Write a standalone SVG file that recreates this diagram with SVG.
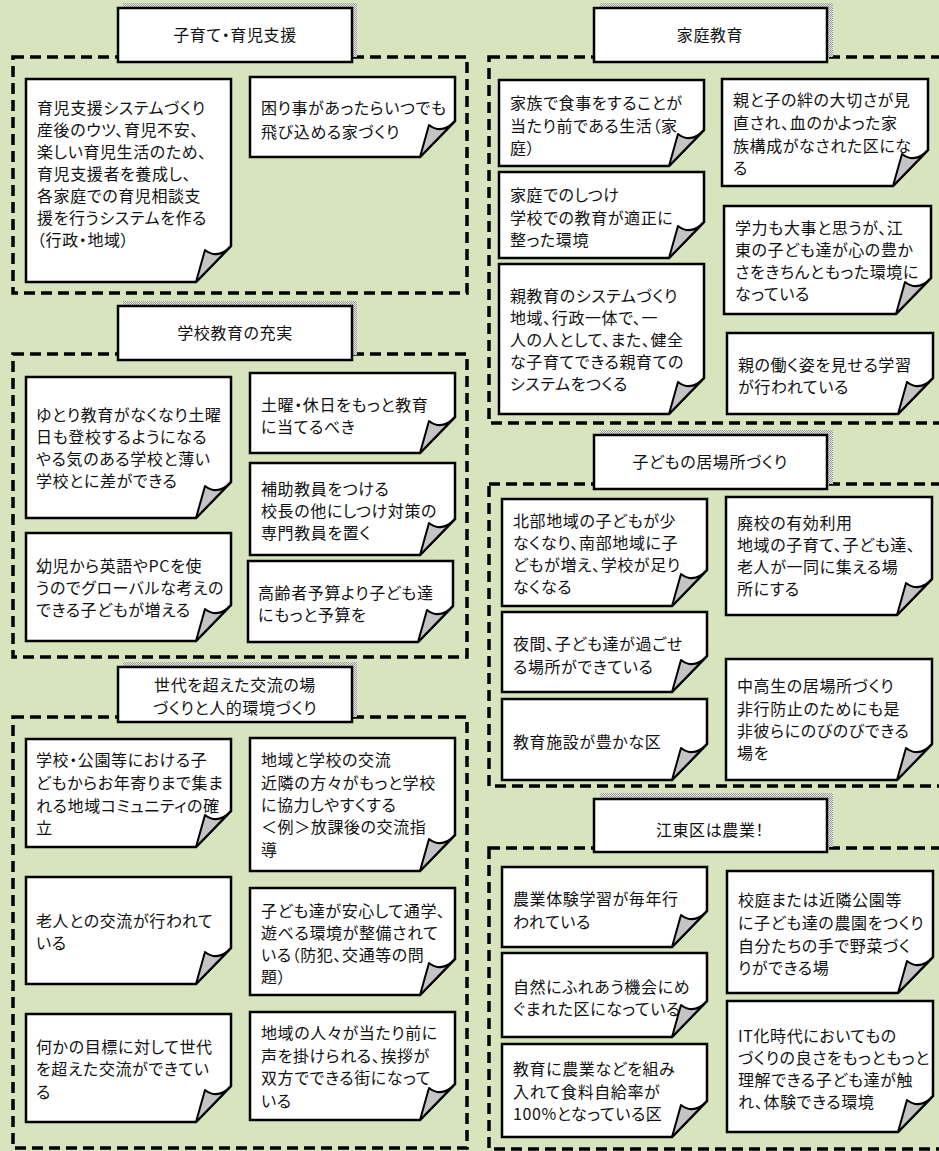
<svg xmlns="http://www.w3.org/2000/svg" width="939" height="1151" viewBox="0 0 939 1151">
<style>
.bg{fill:#d7e4bd}
.grp{fill:none;stroke:#000;stroke-width:3.5;stroke-dasharray:11 6}
.ttl{fill:#fff;stroke:#000;stroke-width:2.5}
.shd{fill:url(#chk)}
.note{fill:#fff;stroke:#000;stroke-width:2.5;stroke-linejoin:miter}
.flap{fill:#c4c4c4;stroke:#000;stroke-width:2;stroke-linejoin:round}
text{font-family:"Noto Sans CJK JP","Noto Sans CJK SC",sans-serif;font-size:16px;fill:#111;font-feature-settings:"palt" 1;letter-spacing:0.6px}
.c{text-anchor:middle}
</style>
<defs>
<pattern id="chk" width="2" height="2" patternUnits="userSpaceOnUse">
<rect width="2" height="2" fill="#e6e6e6"/>
<rect width="1" height="1" fill="#9a9a9a"/>
<rect x="1" y="1" width="1" height="1" fill="#9a9a9a"/>
</pattern>
</defs>
<rect class="bg" x="0" y="0" width="939" height="1151"/>

<g id="groups">
<rect class="grp" x="13" y="57" width="454" height="236"/>
<rect class="grp" x="13" y="354" width="454" height="303"/>
<rect class="grp" x="13" y="717" width="454" height="431"/>
<rect class="grp" x="489" y="57" width="461" height="366"/>
<rect class="grp" x="489" y="484" width="461" height="302"/>
<rect class="grp" x="489" y="848" width="461" height="301"/>
</g>

<g id="connectors"/>

<!-- Section 1 -->
<g id="t-kosodate">
<rect class="shd" x="123" y="3" width="234" height="54"/>
<rect class="ttl" x="118" y="8" width="234" height="54"/>
<text class="c" x="235" y="41">子育て・育児支援</text>
</g>
<g id="n-ikuji">
<path class="note" d="M26 79H231V246L196 282H26Z"/>
<path class="flap" d="M196 282L205 250Q218 260 231 246Z"/>
<text x="37" y="114">育児支援システムづくり</text>
<text x="37" y="136">産後のウツ、育児不安、</text>
<text x="37" y="158">楽しい育児生活のため、</text>
<text x="37" y="180">育児支援者を養成し、</text>
<text x="37" y="202">各家庭での育児相談支</text>
<text x="37" y="224">援を行うシステムを作る</text>
<text x="37" y="246">（行政・地域）</text>
</g>
<g id="n-komari">
<path class="note" d="M250 77H455V121L420 157H250Z"/>
<path class="flap" d="M420 157L429 125Q442 135 455 121Z"/>
<text x="261" y="114">困り事があったらいつでも</text>
<text x="261" y="138">飛び込める家づくり</text>
</g>

<!-- Section 2 -->
<g id="t-gakko">
<rect class="shd" x="123" y="301" width="234" height="54"/>
<rect class="ttl" x="118" y="306" width="234" height="54"/>
<text class="c" x="235" y="339">学校教育の充実</text>
</g>
<g id="n-yutori">
<path class="note" d="M26 377H231V482L196 518H26Z"/>
<path class="flap" d="M196 518L205 486Q218 496 231 482Z"/>
<text x="36" y="421">ゆとり教育がなくなり土曜</text>
<text x="36" y="443">日も登校するようになる</text>
<text x="36" y="465">やる気のある学校と薄い</text>
<text x="36" y="487">学校とに差ができる</text>
</g>
<g id="n-eigo">
<path class="note" d="M26 533H231V605L196 641H26Z"/>
<path class="flap" d="M196 641L205 609Q218 619 231 605Z"/>
<text x="36" y="572">幼児から英語やPCを使</text>
<text x="36" y="594">うのでグローバルな考えの</text>
<text x="36" y="616">できる子どもが増える</text>
</g>
<g id="n-doyo">
<path class="note" d="M250 373H455V417L420 453H250Z"/>
<path class="flap" d="M420 453L429 421Q442 431 455 417Z"/>
<text x="261" y="411">土曜・休日をもっと教育</text>
<text x="261" y="433">に当てるべき</text>
</g>
<g id="n-hojo">
<path class="note" d="M250 463H455V519L420 555H250Z"/>
<path class="flap" d="M420 555L429 523Q442 533 455 519Z"/>
<text x="261" y="495">補助教員をつける</text>
<text x="261" y="517">校長の他にしつけ対策の</text>
<text x="261" y="539">専門教員を置く</text>
</g>
<g id="n-yosan">
<path class="note" d="M248 561H453V606L418 642H248Z"/>
<path class="flap" d="M418 642L427 610Q440 620 453 606Z"/>
<text x="258" y="599">高齢者予算より子ども達</text>
<text x="258" y="621">にもっと予算を</text>
</g>

<!-- Section 3 -->
<g id="t-sedai">
<rect class="shd" x="123" y="662" width="234" height="55"/>
<rect class="ttl" x="118" y="667" width="234" height="55"/>
<text class="c" x="235" y="691">世代を超えた交流の場</text>
<text class="c" x="235" y="714">づくりと人的環境づくり</text>
</g>
<g id="n-community">
<path class="note" d="M26 739H231V811L196 847H26Z"/>
<path class="flap" d="M196 847L205 815Q218 825 231 811Z"/>
<text x="36" y="766">学校・公園等における子</text>
<text x="36" y="789">どもからお年寄りまで集ま</text>
<text x="36" y="812">れる地域コミュニティの確</text>
<text x="36" y="834">立</text>
</g>
<g id="n-rojin">
<path class="note" d="M26 877H231V948L196 984H26Z"/>
<path class="flap" d="M196 984L205 952Q218 962 231 948Z"/>
<text x="36" y="927">老人との交流が行われて</text>
<text x="36" y="949">いる</text>
</g>
<g id="n-mokuhyo">
<path class="note" d="M26 1014H231V1086L196 1122H26Z"/>
<path class="flap" d="M196 1122L205 1090Q218 1100 231 1086Z"/>
<text x="36" y="1053">何かの目標に対して世代</text>
<text x="36" y="1075">を超えた交流ができてい</text>
<text x="36" y="1098">る</text>
</g>
<g id="n-chiiki-gakko">
<path class="note" d="M250 738H455V835L420 871H250Z"/>
<path class="flap" d="M420 871L429 839Q442 849 455 835Z"/>
<text x="261" y="766">地域と学校の交流</text>
<text x="261" y="789">近隣の方々がもっと学校</text>
<text x="261" y="811">に協力しやすくする</text>
<text x="261" y="833">＜例＞放課後の交流指</text>
<text x="261" y="856">導</text>
</g>
<g id="n-anshin">
<path class="note" d="M250 888H455V959L420 995H250Z"/>
<path class="flap" d="M420 995L429 963Q442 973 455 959Z"/>
<text x="261" y="917">子ども達が安心して通学、</text>
<text x="261" y="939">遊べる環境が整備されて</text>
<text x="261" y="961">いる（防犯、交通等の問</text>
<text x="261" y="983">題）</text>
</g>
<g id="n-aisatsu">
<path class="note" d="M250 1012H455V1084L420 1120H250Z"/>
<path class="flap" d="M420 1120L429 1088Q442 1098 455 1084Z"/>
<text x="261" y="1039">地域の人々が当たり前に</text>
<text x="261" y="1062">声を掛けられる、挨拶が</text>
<text x="261" y="1084">双方でできる街になって</text>
<text x="261" y="1107">いる</text>
</g>

<!-- Section 4 -->
<g id="t-katei">
<rect class="shd" x="600" y="3" width="233" height="54"/>
<rect class="ttl" x="594" y="8" width="233" height="54"/>
<text class="c" x="710" y="41">家庭教育</text>
</g>
<g id="n-shokuji">
<path class="note" d="M499 80H704V130L669 166H499Z"/>
<path class="flap" d="M669 166L678 134Q691 144 704 130Z"/>
<text x="510" y="109">家族で食事をすることが</text>
<text x="510" y="132">当たり前である生活（家</text>
<text x="510" y="154">庭）</text>
</g>
<g id="n-shitsuke">
<path class="note" d="M499 172H704V222L669 258H499Z"/>
<path class="flap" d="M669 258L678 226Q691 236 704 222Z"/>
<text x="510" y="201">家庭でのしつけ</text>
<text x="510" y="224">学校での教育が適正に</text>
<text x="510" y="246">整った環境</text>
</g>
<g id="n-oyakyoiku">
<path class="note" d="M499 264H704V378L669 414H499Z"/>
<path class="flap" d="M669 414L678 382Q691 392 704 378Z"/>
<text x="510" y="302">親教育のシステムづくり</text>
<text x="510" y="324">地域、行政一体で、一</text>
<text x="510" y="346">人の人として、また、健全</text>
<text x="510" y="368">な子育てできる親育ての</text>
<text x="510" y="390">システムをつくる</text>
</g>
<g id="n-kizuna">
<path class="note" d="M722 79H928V150L893 186H722Z"/>
<path class="flap" d="M893 186L902 154Q915 164 928 150Z"/>
<text x="733" y="106">親と子の絆の大切さが見</text>
<text x="733" y="129">直され、血のかよった家</text>
<text x="733" y="152">族構成がなされた区にな</text>
<text x="733" y="174">る</text>
</g>
<g id="n-gakuryoku">
<path class="note" d="M724 206H931V278L896 314H724Z"/>
<path class="flap" d="M896 314L905 282Q918 292 931 278Z"/>
<text x="735" y="234">学力も大事と思うが、江</text>
<text x="735" y="256">東の子ども達が心の豊か</text>
<text x="735" y="278">さをきちんともった環境に</text>
<text x="735" y="300">なっている</text>
</g>
<g id="n-hataraku">
<path class="note" d="M727 333H933V378L898 414H727Z"/>
<path class="flap" d="M898 414L907 382Q920 392 933 378Z"/>
<text x="738" y="371">親の働く姿を見せる学習</text>
<text x="738" y="393">が行われている</text>
</g>

<!-- Section 5 -->
<g id="t-ibasho">
<rect class="shd" x="600" y="430" width="233" height="54"/>
<rect class="ttl" x="594" y="435" width="233" height="54"/>
<text class="c" x="710" y="468">子どもの居場所づくり</text>
</g>
<g id="n-hokubu">
<path class="note" d="M502 499H707V570L672 606H502Z"/>
<path class="flap" d="M672 606L681 574Q694 584 707 570Z"/>
<text x="513" y="527">北部地域の子どもが少</text>
<text x="513" y="549">なくなり、南部地域に子</text>
<text x="513" y="571">どもが増え、学校が足り</text>
<text x="513" y="593">なくなる</text>
</g>
<g id="n-yakan">
<path class="note" d="M502 612H707V656L672 692H502Z"/>
<path class="flap" d="M672 692L681 660Q694 670 707 656Z"/>
<text x="513" y="650">夜間、子ども達が過ごせ</text>
<text x="513" y="673">る場所ができている</text>
</g>
<g id="n-shisetsu">
<path class="note" d="M502 699H707V744L672 780H502Z"/>
<path class="flap" d="M672 780L681 748Q694 758 707 744Z"/>
<text x="513" y="748">教育施設が豊かな区</text>
</g>
<g id="n-haiko">
<path class="note" d="M726 497H932V579L897 615H726Z"/>
<path class="flap" d="M897 615L906 583Q919 593 932 579Z"/>
<text x="737" y="529">廃校の有効利用</text>
<text x="737" y="551">地域の子育て、子ども達、</text>
<text x="737" y="573">老人が一同に集える場</text>
<text x="737" y="595">所にする</text>
</g>
<g id="n-chukosei">
<path class="note" d="M726 659H932V744L897 780H726Z"/>
<path class="flap" d="M897 780L906 748Q919 758 932 744Z"/>
<text x="737" y="692">中高生の居場所づくり</text>
<text x="737" y="715">非行防止のためにも是</text>
<text x="737" y="737">非彼らにのびのびできる</text>
<text x="737" y="759">場を</text>
</g>

<!-- Section 6 -->
<g id="t-nogyo">
<rect class="shd" x="600" y="793" width="233" height="54"/>
<rect class="ttl" x="594" y="799" width="233" height="53"/>
<text class="c" x="710" y="836">江東区は農業！</text>
</g>
<g id="n-taiken">
<path class="note" d="M502 867H707V911L672 947H502Z"/>
<path class="flap" d="M672 947L681 915Q694 925 707 911Z"/>
<text x="513" y="905">農業体験学習が毎年行</text>
<text x="513" y="928">われている</text>
</g>
<g id="n-shizen">
<path class="note" d="M502 953H707V1001L672 1037H502Z"/>
<path class="flap" d="M672 1037L681 1005Q694 1015 707 1001Z"/>
<text x="513" y="993">自然にふれあう機会にめ</text>
<text x="513" y="1015">ぐまれた区になっている</text>
</g>
<g id="n-jikyu">
<path class="note" d="M502 1044H707V1101L672 1137H502Z"/>
<path class="flap" d="M672 1137L681 1105Q694 1115 707 1101Z"/>
<text x="513" y="1075">教育に農業などを組み</text>
<text x="513" y="1098">入れて食料自給率が</text>
<text x="513" y="1120">100%となっている区</text>
</g>
<g id="n-noen">
<path class="note" d="M727 871H933V957L898 993H727Z"/>
<path class="flap" d="M898 993L907 961Q920 971 933 957Z"/>
<text x="738" y="906">校庭または近隣公園等</text>
<text x="738" y="929">に子ども達の農園をつくり</text>
<text x="738" y="952">自分たちの手で野菜づく</text>
<text x="738" y="974">りができる場</text>
</g>
<g id="n-monozukuri">
<path class="note" d="M727 1001H933V1096L898 1132H727Z"/>
<path class="flap" d="M898 1132L907 1100Q920 1110 933 1096Z"/>
<text x="738" y="1042">IT化時代においてもの</text>
<text x="738" y="1064">づくりの良さをもっともっと</text>
<text x="738" y="1086">理解できる子ども達が触</text>
<text x="738" y="1108">れ、体験できる環境</text>
</g>
</svg>
